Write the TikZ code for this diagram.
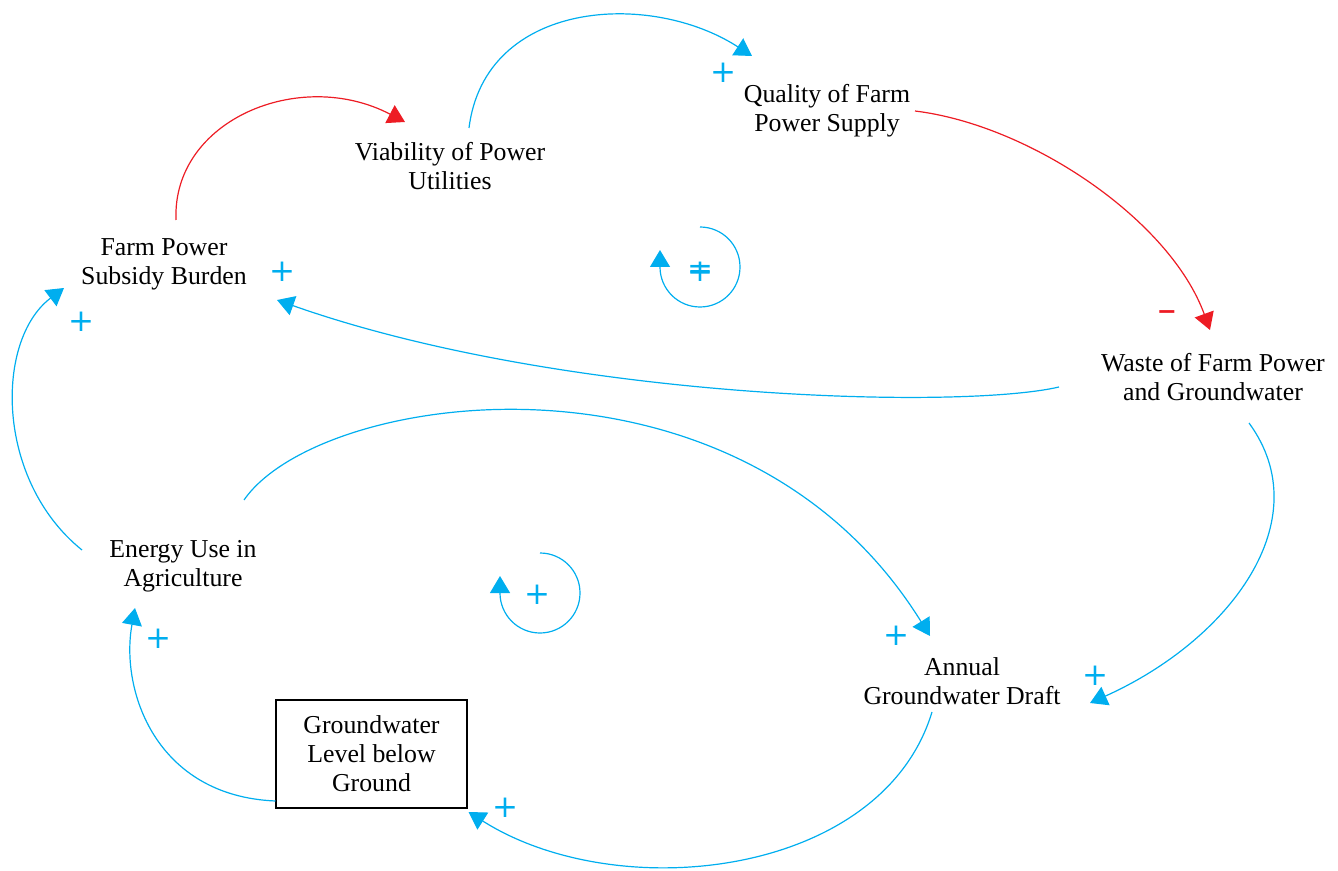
\documentclass[tikz,border=0pt]{standalone}
\usepackage{fontspec}
\setmainfont{Liberation Serif}
\newfontfamily\signfont{DejaVu Sans}
\usetikzlibrary{arrows.meta}
\definecolor{linkblue}{HTML}{00AEEF}
\definecolor{linkred}{HTML}{ED1C24}
\begin{document}
\begin{tikzpicture}[x=0.5pt,y=-0.5pt,
  var/.style={align=center,inner sep=0pt,font=\fontsize{12.9}{14.5}\selectfont},
  level/.style={var,draw,line width=0.75pt,minimum width=95.5pt,minimum height=54pt},
  link/.style={line width=0.6pt},
  poslink/.style={link,draw=linkblue,-{Triangle[length=8.5pt,width=10pt]}},
  neglink/.style={link,draw=linkred,-{Triangle[length=8.5pt,width=10pt]}},
  sign/.style={inner sep=0pt,font=\signfont\fontsize{15.5}{15.5}\selectfont},
  loopsign/.style={sign,text=linkblue}]
\useasboundingbox (0,0) rectangle (1338,871);

% variables
\node[var] (sub) at (164,264) {Farm Power\\Subsidy Burden};
\node[var] (via) at (450,166) {Viability of Power\\Utilities};
\node[var] (qual) at (827,111) {Quality of Farm\\Power Supply};
\node[var] (waste) at (1213,377) {Waste of Farm Power\\and Groundwater};
\node[var] (energy) at (183,566) {Energy Use in\\Agriculture};
\node[var] (draft) at (962,681) {Annual\\Groundwater Draft};
\node[level] (gw) at (371.5,754) {Groundwater\\Level below\\Ground};

% causal links
\draw[neglink] ([shift={(12,-44)}]sub.center) .. controls +(-4,-100) and +(-105,-55) .. ([shift={(-45,-44)}]via.center);
\draw[poslink] ([shift={(19,-38)}]via.center) .. controls +(16,-128) and +(-102,-66) .. ([shift={(-75,-55)}]qual.center);
\draw[neglink] ([shift={(88,0)}]qual.center) .. controls +(115,14) and +(-40,-110) .. ([shift={(-3,-47)}]waste.center);
\draw[poslink] ([shift={(-154,10)}]waste.center) .. controls +(-99,23) and +(283,100) .. ([shift={(113,36)}]sub.center);
\draw[poslink] ([shift={(36,46)}]waste.center) .. controls +(71,97) and +(140,-63) .. ([shift={(128,22)}]draft.center);
\draw[poslink] ([shift={(61,-66)}]energy.center) .. controls +(76,-110) and +(-190,-306) .. ([shift={(-32,-45)}]draft.center);
\draw[poslink] ([shift={(-30,31)}]draft.center) .. controls +(-50,165) and +(150,95) .. ([shift={(97,58)}]gw.center);
\draw[poslink] ([shift={(-96,47)}]gw.center) .. controls +(-120,-5) and +(-15,82) .. ([shift={(-48,42)}]energy.center);
\draw[poslink] ([shift={(-101,-16)}]energy.center) .. controls +(-87,-70) and +(-69,52) .. ([shift={(-100,24)}]sub.center);

% link polarities
\node[sign,text=linkblue] (p1) at (282,272) {+};
\node[sign,text=linkblue] (p2) at (81,322) {+};
\node[sign,text=linkblue] (p3) at (723,73) {+};
\node[sign,text=linkred,font=\signfont\bfseries\fontsize{12}{12}\selectfont] (m1) at (1167,315) {−};
\node[sign,text=linkblue] (p4) at (896,636) {+};
\node[sign,text=linkblue] (p5) at (1095,676) {+};
\node[sign,text=linkblue] (p6) at (505,808) {+};
\node[sign,text=linkblue] (p7) at (158,639) {+};

% loop markers
\draw[poslink] (700,227) arc[start angle=-90,end angle=180,radius=40] -- ++(0,-17);
\node[loopsign] (l1a) at (700,272) {+};
\node[loopsign] (l1b) at (700,272) {=};
\draw[poslink] (540,553) arc[start angle=-90,end angle=180,radius=40] -- ++(0,-17);
\node[loopsign] (l2) at (537,595) {+};
\end{tikzpicture}
\end{document}
